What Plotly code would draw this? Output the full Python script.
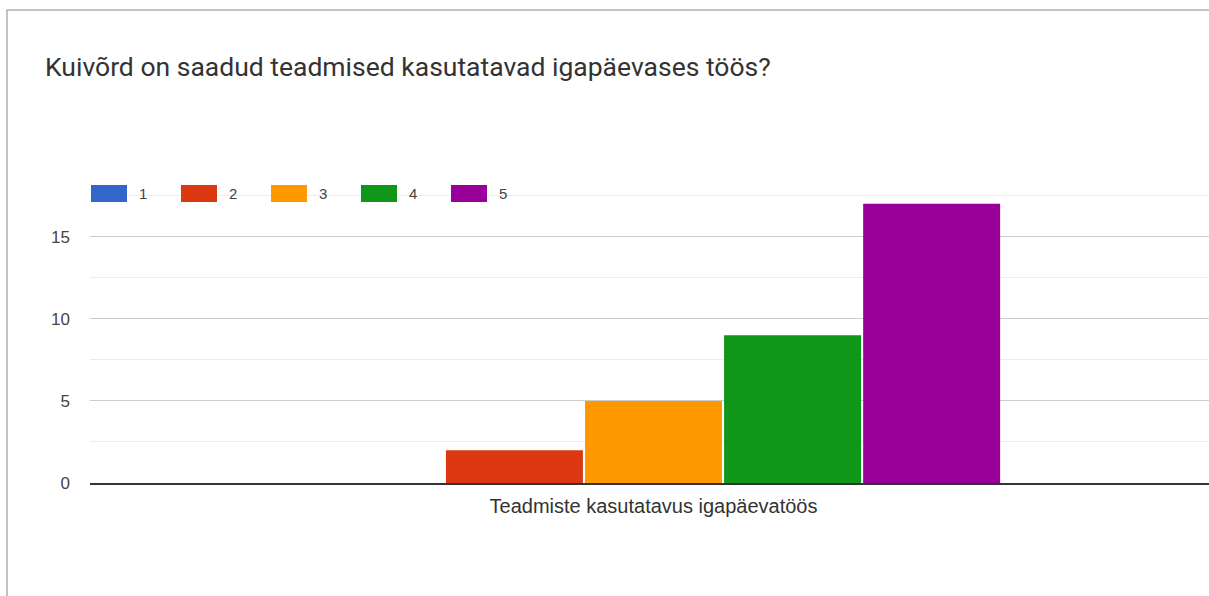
import plotly.graph_objects as go

categories = ["Teadmiste kasutatavus igapäevatöös"]
series_names = ["1", "2", "3", "4", "5"]
series_values = [[0], [2], [5], [9], [17]]
colors = ["#3366cc", "#dc3912", "#ff9900", "#109618", "#990099"]
y_ticks = [0, 5, 10, 15]
title_text = "Kuivõrd on saadud teadmised kasutatavad igapäevases töös?"

W, H = 1209, 596
ML, MR, MT = 90, 0, 194
MB = H - 483
PW, PH = W - ML - MR, H - MT - MB

def px_x(px):
    return (px - ML) / PW

def px_y(py):
    return (H - MB - py) / PH

fig = go.Figure()
for name, vals, col in zip(series_names, series_values, colors):
    fig.add_trace(go.Bar(x=categories, y=vals, name=name, marker=dict(color=col, line=dict(width=0)),
                         showlegend=False))

shapes = []
annotations = []
# custom legend
for i, (name, col) in enumerate(zip(series_names, colors)):
    x0 = 91 + 90 * i
    shapes.append(dict(type="rect", xref="paper", yref="paper",
                       x0=px_x(x0), x1=px_x(x0 + 36), y0=px_y(202), y1=px_y(185),
                       fillcolor=col, line=dict(width=0)))
    annotations.append(dict(xref="paper", yref="paper", x=px_x(x0 + 46), y=px_y(193.5),
                            text=name, showarrow=False, xanchor="left", yanchor="middle",
                            font=dict(family="Arial, Liberation Sans", size=15, color="#444")))
# frame border (left and top)
shapes.append(dict(type="rect", xref="paper", yref="paper",
                   x0=px_x(7), x1=px_x(1400), y0=px_y(900), y1=px_y(10),
                   line=dict(color="#b0b0b0", width=1.5), fillcolor="rgba(0,0,0,0)", layer="below"))

fig.update_layout(
    width=W, height=H,
    margin=dict(l=ML, r=MR, t=MT, b=MB),
    paper_bgcolor="white", plot_bgcolor="white",
    barmode="group", bargap=0.383, bargroupgap=0.015,
    title=dict(text=title_text, x=45 / W, xref="container", xanchor="left",
               y=1 - 67 / H, yanchor="middle",
               font=dict(family="Roboto, Arial", size=26.5, color="#333")),
    shapes=shapes, annotations=annotations,
    xaxis=dict(type="category", range=[-0.5, (PW / 1127) - 0.5], showgrid=False,
               showline=True, linecolor="#333", linewidth=1.5, ticks="",
               tickfont=dict(family="Arial, Liberation Sans", size=20, color="#333"),
               ticklabelstandoff=4, fixedrange=True),
    yaxis=dict(range=[0, 17.6], tickvals=y_ticks, showgrid=True, gridcolor="#cccccc", gridwidth=1,
               zeroline=False, ticks="",
               tickfont=dict(family="Arial, Liberation Sans", size=17, color="#444"),
               ticklabelstandoff=19,
               minor=dict(dtick=2.5, tick0=0, showgrid=True, gridcolor="#ececec", gridwidth=1)),
)

fig.write_html("out.html", config={"displayModeBar": False},
               post_script="document.body.style.margin='0';document.body.style.overflow='hidden';")
